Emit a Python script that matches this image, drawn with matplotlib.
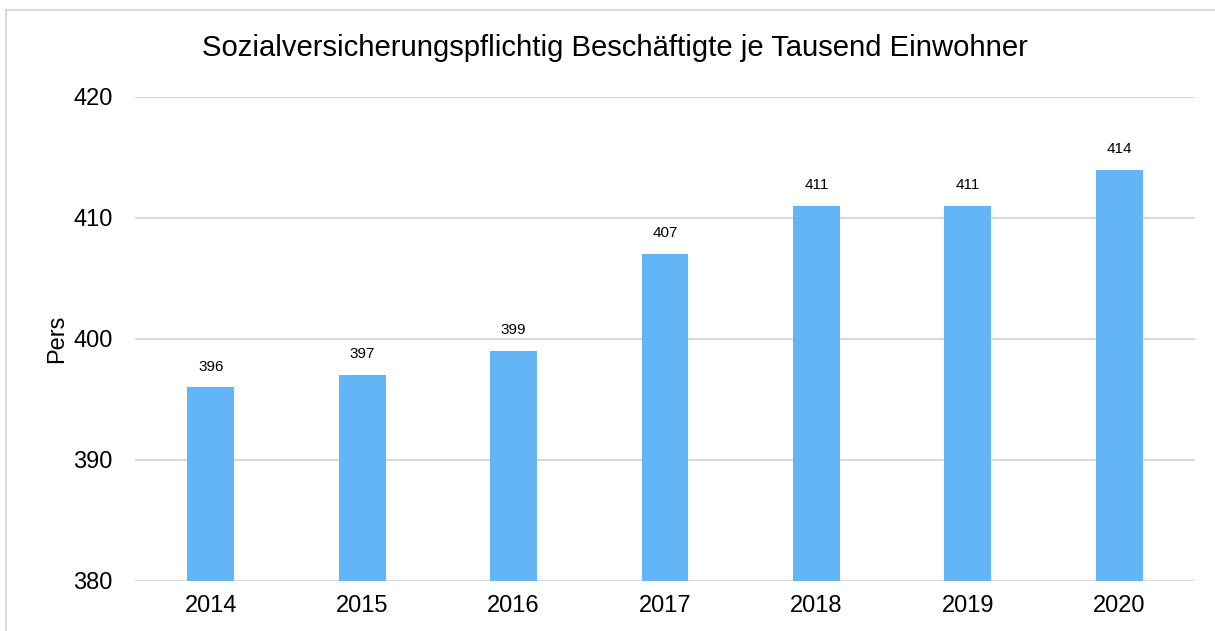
import matplotlib.pyplot as plt
from matplotlib.lines import Line2D

plt.rcParams["font.family"] = ["Liberation Sans", "DejaVu Sans"]

YEARS = ["2014", "2015", "2016", "2017", "2018", "2019", "2020"]
VALUES = [396, 397, 399, 407, 411, 411, 414]
TITLE = "Sozialversicherungspflichtig Beschäftigte je Tausend Einwohner"

fig = plt.figure(figsize=(12.15, 6.31), dpi=100)
# light frame: only top and left edges are visible in the crop
top = 1 - 9.5 / 631
left = 5.5 / 1215
fig.lines.append(Line2D([left, 1.0], [top, top], transform=fig.transFigure,
                        color="#d9d9d9", linewidth=1.5))
fig.lines.append(Line2D([left, left], [0.0, top], transform=fig.transFigure,
                        color="#d9d9d9", linewidth=1.5))

ax = fig.add_axes([135 / 1215, 1 - 581 / 631, 1060 / 1215, (581 - 97) / 631])

x = range(len(YEARS))
ax.bar(x, [v - 380 for v in VALUES], bottom=380, width=0.31, color="#64b5f6", zorder=3)
for xi, v in zip(x, VALUES):
    ax.annotate(str(v), (xi, v), xytext=(0, 10), textcoords="offset points",
                ha="center", va="bottom", fontsize=11)

ax.set_xlim(-0.5, len(YEARS) - 0.5)
ax.set_ylim(380, 420)
ax.set_yticks([380, 390, 400, 410, 420])
ax.set_xticks(list(x))
ax.set_xticklabels(YEARS)
ax.tick_params(axis="both", length=0, labelsize=17)
ax.tick_params(axis="y", pad=16)
ax.tick_params(axis="x", pad=10)
ax.grid(axis="y", color="#d9d9d9", linewidth=1.5, zorder=0)
for s in ax.spines.values():
    s.set_visible(False)
ax.set_ylabel("Pers", fontsize=17, labelpad=4)
fig.text(615 / 1215, 1 - 48 / 631, TITLE, ha="center", va="center", fontsize=21.1)

fig.savefig("out.png", dpi=100)
